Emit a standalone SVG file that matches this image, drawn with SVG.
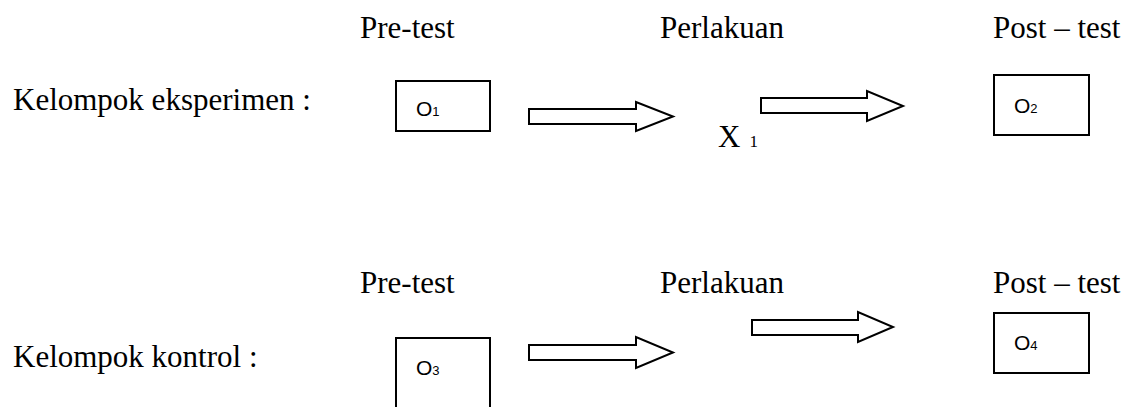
<svg xmlns="http://www.w3.org/2000/svg" width="1139" height="407" viewBox="0 0 1139 407">
<style>
.t{font-family:"Liberation Serif","Times New Roman",serif;font-size:31px;fill:#000}
.s{font-family:"Liberation Sans",Arial,sans-serif;font-size:21px;fill:#000}
.sub{font-size:13px}
.box{fill:#fff;stroke:#000;stroke-width:2}
.arr{fill:#fff;stroke:#000;stroke-width:2;stroke-linejoin:miter}
</style>
<rect width="1139" height="407" fill="#fff"/>
<g id="headers">
<text class="t" x="360" y="38">Pre-test</text>
<text class="t" x="660" y="38">Perlakuan</text>
<text class="t" x="993" y="38">Post – test</text>
<text class="t" x="360" y="293">Pre-test</text>
<text class="t" x="660" y="293">Perlakuan</text>
<text class="t" x="993" y="293">Post – test</text>
</g>
<g id="label-eksperimen"><text class="t" x="13" y="110">Kelompok eksperimen :</text></g>
<g id="label-kontrol"><text class="t" x="13" y="367">Kelompok kontrol :</text></g>
<g id="node-o1"><rect class="box" x="396" y="81" width="94" height="50"/><text class="s" x="416" y="116">O<tspan class="sub">1</tspan></text></g>
<g id="node-x1"><text class="t" x="718" y="147">X<tspan font-size="17" dx="9">1</tspan></text></g>
<g id="node-o2"><rect class="box" x="994" y="75" width="95" height="60"/><text class="s" x="1014" y="113">O<tspan class="sub">2</tspan></text></g>
<g id="node-o3"><rect class="box" x="396" y="338" width="94" height="90"/><text class="s" x="416" y="375">O<tspan class="sub">3</tspan></text></g>
<g id="node-o4"><rect class="box" x="994" y="313" width="95" height="60"/><text class="s" x="1014" y="350">O<tspan class="sub">4</tspan></text></g>
<g id="connectors">
<polygon class="arr" points="529,109 636,109 636,102 673,116.5 636,131 636,124 529,124"/>
<polygon class="arr" points="761,98 867,98 867,91 903,106 867,121 867,113 761,113"/>
<polygon class="arr" points="529,345 636,345 636,337 673,352.5 636,368 636,360 529,360"/>
<polygon class="arr" points="752,320 858,320 858,312 893,327 858,342 858,335 752,335"/>
</g>
</svg>
